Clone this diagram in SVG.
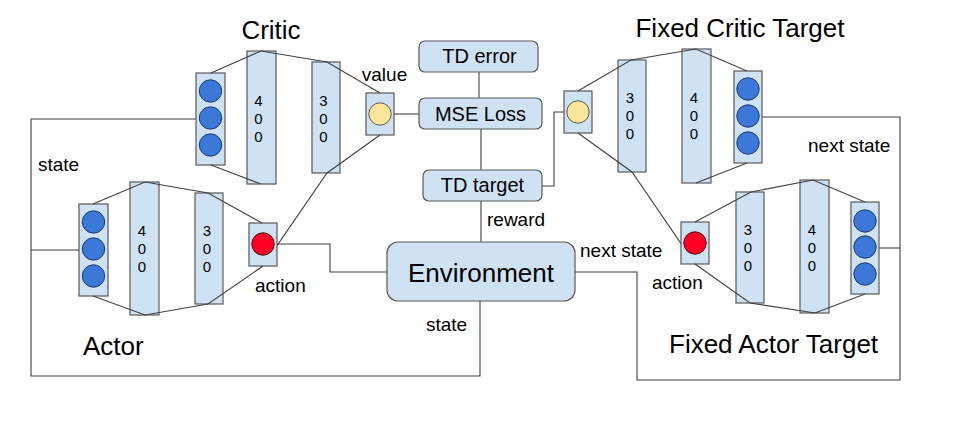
<svg xmlns="http://www.w3.org/2000/svg" width="958" height="428" viewBox="0 0 958 428">
<style>
.bg{fill:#ffffff}
.ly{fill:#cfe2f3;stroke:#595959;stroke-width:1.2}
.bx{fill:#cfe2f3;stroke:#595959;stroke-width:1.2}
.ln{fill:none;stroke:#404040;stroke-width:1.1}
.cb{fill:#3c78d8;stroke:#1c3a6b;stroke-width:1}
.cy{fill:#ffe599;stroke:#595959;stroke-width:1}
.cr{fill:#ff0022;stroke:#4a0a0a;stroke-width:1}
text{font-family:"Liberation Sans",Arial,sans-serif;fill:#000}
.t{font-size:26px}
.m{font-size:20px}
.s{font-size:19px}
.d{font-size:15px;text-anchor:middle}
.c{text-anchor:middle}
</style>
<rect class="bg" x="0" y="0" width="958" height="428"/>

<g id="connectors">
<path class="ln" d="M391,114 H419"/>
<path class="ln" d="M479,72 V98"/>
<path class="ln" d="M481,129 V170"/>
<path class="ln" d="M542,186 H554 V112 H567"/>
<path class="ln" d="M481,201 V242"/>
<path class="ln" d="M480,301 V376 H31 V119 H196"/>
<path class="ln" d="M31,250 H79"/>
<path class="ln" d="M274,244 H330 V272 H387"/>
<path class="ln" d="M575,272 H637 V380 H900 V117 H762"/>
<path class="ln" d="M900,248 H879"/>
</g>

<g id="critic">
<rect class="ly" x="196" y="73" width="29" height="92"/>
<rect class="ly" x="247" y="51" width="29" height="133"/>
<rect class="ly" x="312" y="62" width="28" height="111"/>
<rect class="ly" x="366" y="93" width="28" height="42"/>
<path class="ln" d="M211,73 L261,51 L327,62 L380,93"/>
<path class="ln" d="M211,165 L261,184"/>
<path class="ln" d="M380,135 L327,173 L263,266"/>
<circle class="cb" cx="210.5" cy="91" r="11.2"/>
<circle class="cb" cx="210.5" cy="118" r="11.2"/>
<circle class="cb" cx="210.5" cy="145" r="11.2"/>
<circle class="cy" cx="380" cy="114" r="11.2"/>
<text class="d" x="258.5" y="106">4</text><text class="d" x="258.5" y="124">0</text><text class="d" x="258.5" y="142">0</text>
<text class="d" x="323.5" y="106">3</text><text class="d" x="323.5" y="124">0</text><text class="d" x="323.5" y="142">0</text>
<text class="t c" x="271" y="39">Critic</text>
<text class="s c" x="384.5" y="81">value</text>
</g>

<g id="actor">
<rect class="ly" x="79" y="204" width="29" height="92"/>
<rect class="ly" x="130" y="182" width="29" height="133"/>
<rect class="ly" x="195" y="193" width="28" height="111"/>
<rect class="ly" x="249" y="223" width="28" height="43"/>
<path class="ln" d="M93,204 L145,182 L208,193 L262,223"/>
<path class="ln" d="M93,296 L145,315 L208,304 L263,266"/>
<circle class="cb" cx="93.5" cy="222" r="11.2"/>
<circle class="cb" cx="93.5" cy="249" r="11.2"/>
<circle class="cb" cx="93.5" cy="276" r="11.2"/>
<circle class="cr" cx="263" cy="244" r="11.2"/>
<text class="d" x="142" y="236">4</text><text class="d" x="142" y="254">0</text><text class="d" x="142" y="272">0</text>
<text class="d" x="207" y="236">3</text><text class="d" x="207" y="254">0</text><text class="d" x="207" y="272">0</text>
<text class="t" x="83" y="355">Actor</text>
<text class="s" x="255" y="292">action</text>
<text class="s" x="38" y="171">state</text>
</g>

<g id="td-error">
<rect class="bx" x="419" y="41" width="119" height="31" rx="6"/>
<text class="m c" x="479.5" y="63">TD error</text>
</g>
<g id="mse-loss">
<rect class="bx" x="419" y="98" width="123" height="31" rx="6"/>
<text class="m c" x="480.5" y="121">MSE Loss</text>
</g>
<g id="td-target">
<rect class="bx" x="423" y="170" width="119" height="31" rx="6"/>
<text class="m c" x="482.5" y="192">TD target</text>
</g>
<g id="environment">
<rect class="bx" x="387" y="242" width="188" height="59" rx="11"/>
<text class="t c" x="481" y="282">Environment</text>
<text class="s" x="487" y="226">reward</text>
<text class="s" x="426" y="331">state</text>
<text class="s" x="580" y="257">next state</text>
</g>

<g id="fixed-critic-target">
<rect class="ly" x="564" y="91" width="28" height="42"/>
<rect class="ly" x="618" y="60" width="28" height="112"/>
<rect class="ly" x="682" y="49" width="29" height="134"/>
<rect class="ly" x="734" y="71" width="28" height="92"/>
<path class="ln" d="M578,91 L631,60 L696,49 L747,71"/>
<path class="ln" d="M747,163 L696,183"/>
<path class="ln" d="M578,133 L632,172 L695,264"/>
<circle class="cy" cx="578" cy="112" r="11.2"/>
<circle class="cb" cx="748" cy="89" r="11.2"/>
<circle class="cb" cx="748" cy="116" r="11.2"/>
<circle class="cb" cx="748" cy="143" r="11.2"/>
<text class="d" x="630" y="103">3</text><text class="d" x="630" y="121">0</text><text class="d" x="630" y="139">0</text>
<text class="d" x="694" y="103">4</text><text class="d" x="694" y="121">0</text><text class="d" x="694" y="139">0</text>
<text class="t c" x="740" y="37">Fixed Critic Target</text>
<text class="s" x="808" y="152">next state</text>
</g>

<g id="fixed-actor-target">
<rect class="ly" x="681" y="222" width="28" height="42"/>
<rect class="ly" x="736" y="192" width="28" height="111"/>
<rect class="ly" x="800" y="180" width="29" height="133"/>
<rect class="ly" x="851" y="202" width="28" height="92"/>
<path class="ln" d="M695,222 L751,192 L813,180 L865,202"/>
<path class="ln" d="M695,264 L750,303 L815,313 L865,294"/>
<circle class="cr" cx="695" cy="243" r="11.2"/>
<circle class="cb" cx="865" cy="221" r="11.2"/>
<circle class="cb" cx="865" cy="247" r="11.2"/>
<circle class="cb" cx="865" cy="274" r="11.2"/>
<text class="d" x="748" y="235">3</text><text class="d" x="748" y="253">0</text><text class="d" x="748" y="271">0</text>
<text class="d" x="812" y="235">4</text><text class="d" x="812" y="253">0</text><text class="d" x="812" y="271">0</text>
<text class="t" x="669" y="353">Fixed Actor Target</text>
<text class="s" x="652" y="289">action</text>
</g>
</svg>
